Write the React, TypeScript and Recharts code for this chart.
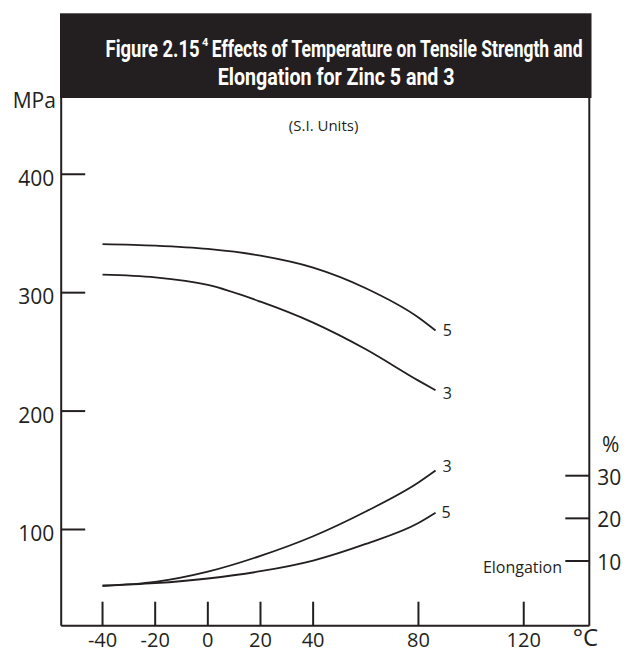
import { useLayoutEffect, useRef, useState } from 'react'
import { LineChart, Line, XAxis, YAxis } from 'recharts'

// temperature (°C) at which each curve was read
const temps = [-40, -20, 0, 20, 40, 60, 80, 86.5]

// tensile strength, MPa
const strengthZinc5 = [341, 339.7, 336.9, 331.2, 321.1, 303.7, 279, 268]
const strengthZinc3 = [315.3, 313, 306.5, 292.4, 274.7, 252.2, 225.7, 217.6]

// elongation, %
const elongZinc3 = [4.2, 5.1, 7.5, 11.2, 15.8, 21.6, 28.4, 31.2]
const elongZinc5 = [4.2, 4.8, 5.9, 7.6, 10.1, 14.0, 18.9, 21.3]

const xTicks = [-40, -20, 0, 20, 40, 80, 120]
const mpaTicks = [100, 200, 300, 400]
const pctTicks = [10, 20, 30]

const data = temps.map((t, i) => ({
  t,
  s5: strengthZinc5[i],
  s3: strengthZinc3[i],
  e3: elongZinc3[i],
  e5: elongZinc5[i],
}))

const ink = '#231f20'
const font = "'Open Sans', 'Noto Sans', sans-serif"
const titleFont = "'Liberation Sans Narrow', 'Roboto', sans-serif"

// squeezes a line of text horizontally to a given width (condensed title face)
function FitText({ x, y, width, children, ...rest }: any) {
  const ref = useRef<SVGTextElement>(null)
  const [sx, setSx] = useState(1)
  useLayoutEffect(() => {
    if (ref.current) {
      const len = ref.current.getComputedTextLength()
      if (len > 0) setSx(width / len)
    }
  }, [width])
  return (
    <g transform={`translate(${x} ${y}) scale(${sx} 1)`}>
      <text ref={ref} x={0} y={0} {...rest}>{children}</text>
    </g>
  )
}

const XTick = (props: any) => {
  const { x, y, payload } = props
  const axisY = y - 7
  return (
    <g>
      <line x1={x} x2={x} y1={axisY} y2={axisY - 24} stroke={ink} strokeWidth={2} />
      <text x={x} y={y} dy="0.71em" textAnchor="middle" fill={ink} fontSize={20} fontFamily={font}>
        {payload.value}
      </text>
    </g>
  )
}

const LeftTick = (props: any) => {
  const { x, y, payload } = props
  const axisX = x + 7
  return (
    <g>
      <line x1={axisX} x2={axisX + 24} y1={y} y2={y} stroke={ink} strokeWidth={2} />
      <text x={x} y={y + 4} dy="0.355em" textAnchor="end" fill={ink} fontSize={21} fontFamily={font}>
        {payload.value}
      </text>
    </g>
  )
}

const RightTick = (props: any) => {
  const { x, y, payload } = props
  const axisX = x - 8
  return (
    <g>
      <line x1={axisX} x2={axisX - 24} y1={y} y2={y} stroke={ink} strokeWidth={2} />
      <text x={x} y={y + 1.5} dy="0.355em" textAnchor="start" fill={ink} fontSize={21} fontFamily={font}>
        {payload.value}
      </text>
    </g>
  )
}

const endLabel = (text: string, dx: number, dy: number) => (props: any) => {
  if (props.index !== temps.length - 1) return <g />
  return (
    <text x={props.x + dx} y={props.y + dy} fill={ink} fontSize={16} fontFamily={font}>
      {text}
    </text>
  )
}

export default function App() {
  return (
    <div style={{ position: 'absolute', left: 0, top: 0, width: 629, height: 653, background: '#fff' }}>
      <LineChart
        width={629}
        height={653}
        data={data}
        margin={{ top: 98, right: 0, bottom: 0, left: 0 }}
      >
        <XAxis
          type="number"
          dataKey="t"
          domain={[-55.7, 144.9]}
          ticks={xTicks}
          interval={0}
          allowDataOverflow
          height={27.3}
          tickSize={0}
          tickMargin={7}
          tickLine={false}
          axisLine={{ stroke: ink, strokeWidth: 2 }}
          tick={<XTick />}
        />
        <YAxis
          yAxisId="mpa"
          type="number"
          domain={[18.75, 464.4]}
          ticks={mpaTicks}
          interval={0}
          allowDataOverflow
          width={61.2}
          tickSize={0}
          tickMargin={7}
          tickLine={false}
          axisLine={{ stroke: ink, strokeWidth: 2 }}
          tick={<LeftTick />}
        />
        <YAxis
          yAxisId="pct"
          orientation="right"
          type="number"
          domain={[-5.17, 118.56]}
          ticks={pctTicks}
          interval={0}
          allowDataOverflow
          width={39.7}
          tickSize={0}
          tickMargin={8}
          tickLine={false}
          axisLine={{ stroke: ink, strokeWidth: 2 }}
          tick={<RightTick />}
        />
        <Line yAxisId="mpa" dataKey="s5" type="monotone" stroke={ink} strokeWidth={1.8} dot={false}
          isAnimationActive={false} label={endLabel('5', 7.3, 5.5)} />
        <Line yAxisId="mpa" dataKey="s3" type="monotone" stroke={ink} strokeWidth={1.8} dot={false}
          isAnimationActive={false} label={endLabel('3', 7.3, 8.4)} />
        <Line yAxisId="pct" dataKey="e3" type="monotone" stroke={ink} strokeWidth={1.8} dot={false}
          isAnimationActive={false} label={endLabel('3', 7, 1.7)} />
        <Line yAxisId="pct" dataKey="e5" type="monotone" stroke={ink} strokeWidth={1.8} dot={false}
          isAnimationActive={false} label={endLabel('5', 6, 4.7)} />
      </LineChart>

      <svg width={629} height={653} style={{ position: 'absolute', left: 0, top: 0, pointerEvents: 'none' }}>
        <rect x={60} y={13.3} width={531.5} height={84.7} fill={ink} />
        <FitText x={105.6} y={57} width={94} fill="#fff" fontSize={24} fontWeight="bold" fontFamily={titleFont}>
          Figure 2.15
        </FitText>
        <text x={202} y={46} fill="#fff" fontSize={11} fontWeight="bold" fontFamily={titleFont}>
          4
        </text>
        <FitText x={211.7} y={57} width={371} fill="#fff" fontSize={24} fontWeight="bold" fontFamily={titleFont}>
          Effects of Temperature on Tensile Strength and
        </FitText>
        <FitText x={217.7} y={85.2} width={237} fill="#fff" fontSize={24} fontWeight="bold" fontFamily={titleFont}>
          Elongation for Zinc 5 and 3
        </FitText>
        <text x={12.7} y={108} fill={ink} fontSize={21} fontFamily={font}>MPa</text>
        <text x={323.6} y={130.5} textAnchor="middle" fill={ink} fontSize={15} fontFamily={font}>(S.I. Units)</text>
        <text x={602} y={451.5} fill={ink} fontSize={21} fontFamily={font}>%</text>
        <text x={562} y={572.7} textAnchor="end" fill={ink} fontSize={16} fontFamily={font}>Elongation</text>
        <text x={572.7} y={645.5} fill={ink} fontSize={24} fontFamily={font}>°C</text>
      </svg>
    </div>
  )
}
